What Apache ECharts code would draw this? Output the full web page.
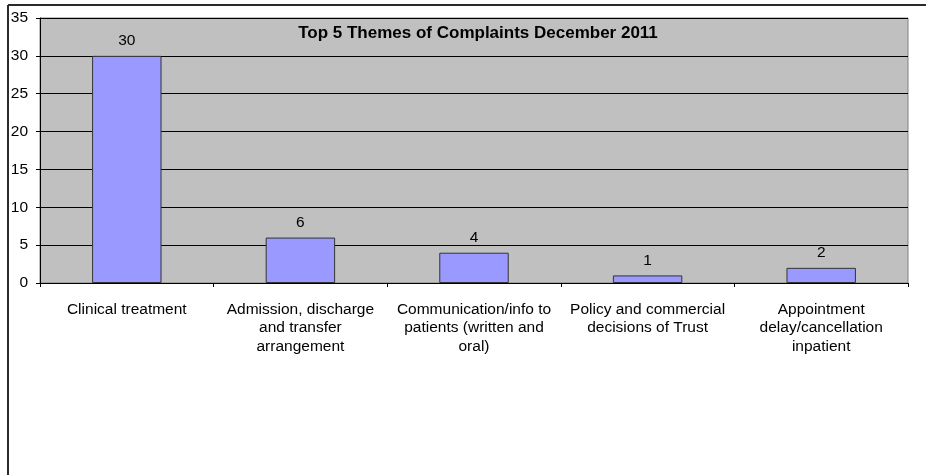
<!DOCTYPE html>
<html>
<head>
<meta charset="utf-8">
<script src="https://cdn.jsdelivr.net/npm/echarts@6/dist/echarts.min.js"></script>
<style>
html,body{margin:0;padding:0;background:#fff;}
#complaints{width:926px;height:475px;}
</style>
</head>
<body>
<div id="complaints"></div>
<script>
var themes = [
    'Clinical treatment',
    'Admission, discharge\nand transfer\narrangement',
    'Communication/info to\npatients (written and\noral)',
    'Policy and commercial\ndecisions of Trust',
    'Appointment\ndelay/cancellation\ninpatient'
];
var counts = [30, 6, 4, 1, 2];
var yTicks = [0, 5, 10, 15, 20, 25, 30, 35];

var mychart = echarts.init(document.getElementById('complaints'));

option = {
    backgroundColor: '#ffffff',
    animation: false,
    title: {
        text: 'Top 5 Themes of Complaints December 2011',
        left: 473,
        textAlign: 'center',
        top: 20,
        textStyle: {
            fontFamily: 'Liberation Sans',
            fontSize: 17,
            fontWeight: 'bold',
            color: '#000'
        }
    },
    grid: {
        left: 40,
        right: 18,
        top: 18,
        bottom: 192,
        show: true,
        backgroundColor: '#c0c0c0',
        borderColor: '#808080',
        borderWidth: 1
    },
    graphic: [
        {
            type: 'line',
            shape: { x1: 8, y1: 5, x2: 8, y2: 475 },
            style: { stroke: '#2a2a2a', lineWidth: 2 }
        },
        {
            type: 'line',
            shape: { x1: 8, y1: 5, x2: 926, y2: 5 },
            style: { stroke: '#2a2a2a', lineWidth: 2 }
        }
    ],
    xAxis: {
        type: 'category',
        data: themes,
        boundaryGap: true,
        axisLine: { lineStyle: { color: '#000' } },
        axisTick: { show: true, length: 4, lineStyle: { color: '#000' } },
        axisLabel: {
            interval: 0,
            margin: 17,
            color: '#000',
            fontFamily: 'Liberation Sans',
            fontSize: 15.5,
            lineHeight: 18.5
        }
    },
    yAxis: {
        type: 'value',
        min: yTicks[0],
        max: yTicks[yTicks.length - 1],
        interval: 5,
        axisLine: { show: true, lineStyle: { color: '#000' } },
        axisTick: { show: true, length: 4, lineStyle: { color: '#000' } },
        axisLabel: {
            margin: 12,
            color: '#000',
            fontFamily: 'Liberation Sans',
            fontSize: 15.5
        },
        splitLine: { show: true, lineStyle: { color: '#000', width: 1 } }
    },
    series: [
        {
            type: 'bar',
            data: counts,
            barWidth: '40%',
            itemStyle: {
                color: '#9999ff',
                borderColor: '#333',
                borderWidth: 1
            },
            label: {
                show: true,
                position: 'top',
                distance: 7,
                color: '#000',
                fontFamily: 'Liberation Sans',
                fontSize: 15.5
            }
        }
    ]
};
mychart.setOption(option, true);
</script>
</body>
</html>
